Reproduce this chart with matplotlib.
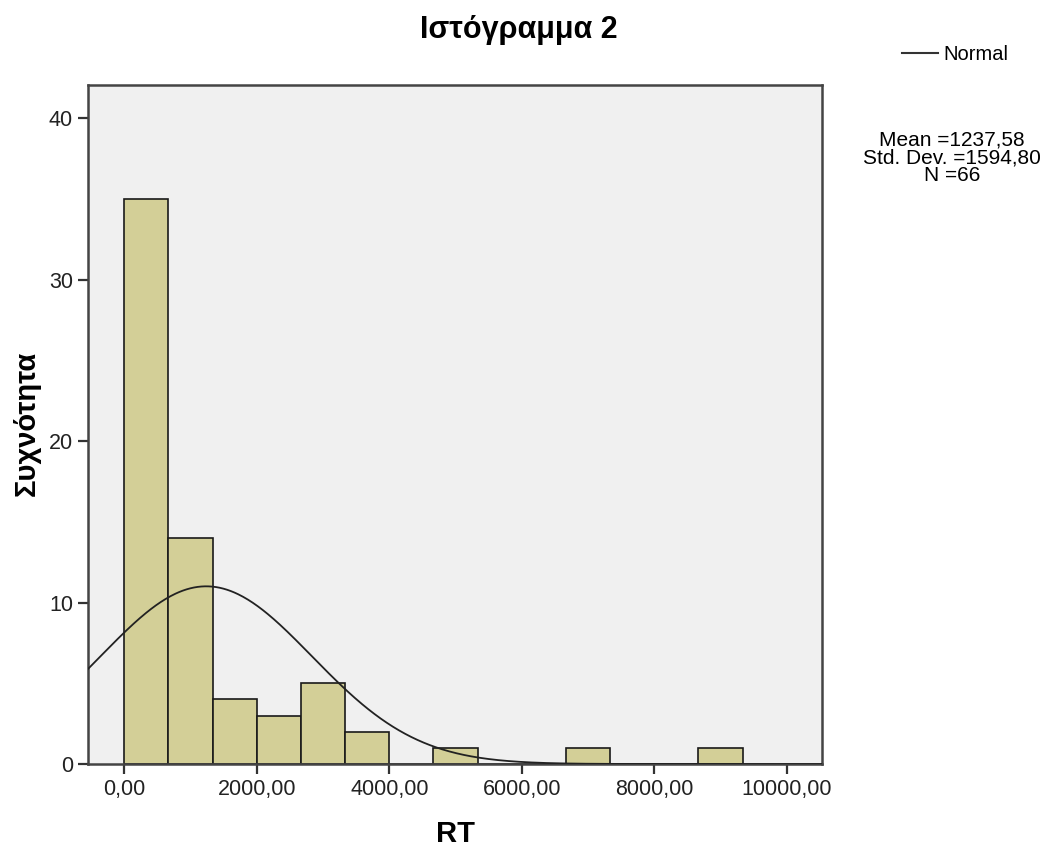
import numpy as np
import matplotlib
matplotlib.use("Agg")
import matplotlib.pyplot as plt

plt.rcParams['font.family'] = ['Liberation Sans', 'DejaVu Sans']

# histogram data (bin width = 2000/3)
bin_edges = np.arange(15) * (2000.0 / 3.0)
counts = [35, 14, 4, 3, 5, 2, 0, 1, 0, 0, 1, 0, 0, 1]
mean = 1237.58
std = 1594.80
n = 66

xticks = [0, 2000, 4000, 6000, 8000, 10000]
xtick_labels = ["0,00", "2000,00", "4000,00", "6000,00", "8000,00", "10000,00"]
yticks = [0, 10, 20, 30, 40]

fig = plt.figure(figsize=(10.51, 8.49), dpi=100)
ax = fig.add_axes([0.0834, 0.1001, 0.699, 0.7998])
ax.set_facecolor("#f0f0f0")

widths = np.diff(bin_edges)
ax.bar(bin_edges[:-1], counts, width=widths, align="edge",
       color="#d3cf97", edgecolor="#1a1a1a", linewidth=1.2, zorder=2)

# normal curve scaled to counts
xs = np.linspace(-560, 10540, 600)
bw = widths[0]
ys = n * bw / (std * np.sqrt(2 * np.pi)) * np.exp(-0.5 * ((xs - mean) / std) ** 2)
ax.plot(xs, ys, color="#222222", linewidth=1.3, zorder=3)

ax.set_xlim(-552, 10536)
ax.set_ylim(0, 42.06)
ax.set_xticks(xticks)
ax.set_xticklabels(xtick_labels)
ax.set_yticks(yticks)
ax.tick_params(axis="both", labelsize=15.5, length=7, width=1.6,
               color="#333333", labelcolor="#222222", direction="out")
for s in ax.spines.values():
    s.set_color("#444444")
    s.set_linewidth(1.8)

fig.text(455 / 1051, 1 - 834 / 849, "RT", fontsize=21, fontweight="bold",
         ha="center", va="center")
fig.text(27 / 1051, 1 - 423 / 849, "Συχνότητα", fontsize=21, fontweight="bold",
         rotation=90, ha="center", va="center")
fig.text(0.494, 1 - 30 / 849, "Ιστόγραμμα 2", fontsize=22, fontweight="bold",
         ha="center", va="center")

# legend and stats box on the right
fig.add_artist(plt.Line2D([902 / 1051, 938 / 1051], [1 - 53 / 849, 1 - 53 / 849],
                          color="#333333", linewidth=1.5))
fig.text(943 / 1051, 1 - 54 / 849, "Normal", fontsize=14.5, ha="left", va="center")
fig.text(952 / 1051, 1 - 158 / 849,
         "Mean =1237,58\nStd. Dev. =1594,80\nN =66",
         fontsize=15, ha="center", va="center", linespacing=0.9)

fig.savefig("out.png", dpi=100)
